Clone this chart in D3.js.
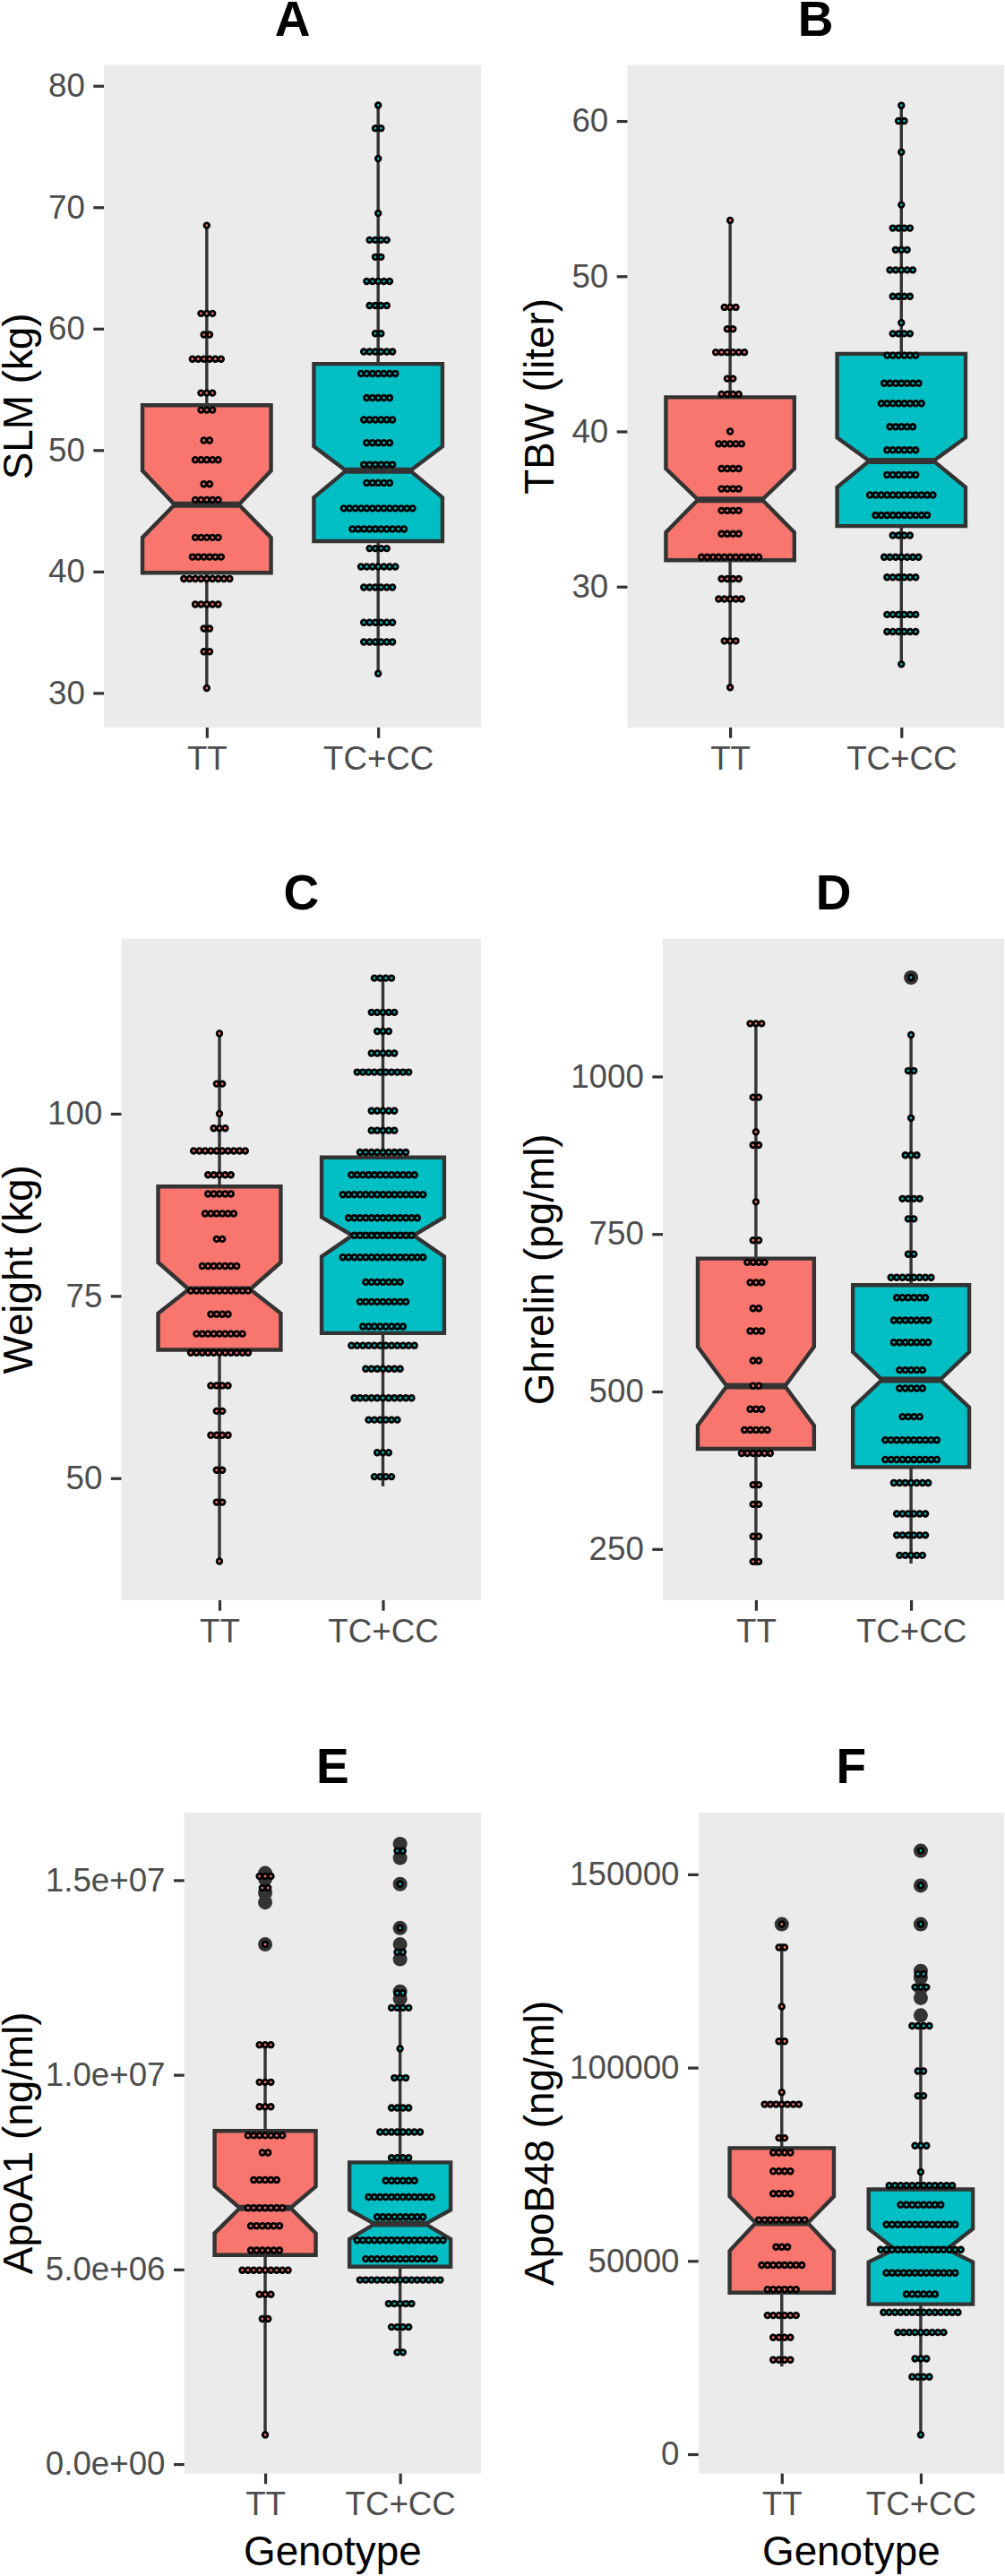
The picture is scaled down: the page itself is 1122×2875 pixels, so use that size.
<!DOCTYPE html>
<html>
<head>
<meta charset="utf-8">
<script src="https://cdn.jsdelivr.net/npm/d3@7"></script>
<style>
  body { margin: 0; background: #fff; }
  svg { display: block; }
</style>
</head>
<body>
<div id="chart"></div>
<script>
const groups = ["TT", "TC+CC"];
const groupFills = ["#F8766D", "#00BFC4"];

// dot rows are [value, dots in the row]; boxes are [min, q1, median, q3, max]

// A - SLM (kg)
const slmDotsTT = [[68.5,1],[61.25,3],[59.5,2],[57.5,6],[54.7,3],[53.3,3],[50.8,2],[49.2,5],[47.2,2],[45.9,5],[42.8,5],[41.2,6],[39.4,9],[37.3,5],[35.3,2],[33.4,2],[30.4,1]];
const slmDotsTC = [[78.4,1],[76.5,2],[74.0,1],[69.5,1],[67.3,4],[65.9,2],[63.9,5],[61.9,4],[59.6,2],[58.1,6],[56.3,7],[54.3,5],[52.5,6],[50.6,5],[48.8,6],[47.3,5],[45.2,13],[43.5,10],[41.9,4],[40.4,7],[38.7,6],[35.8,6],[34.2,6],[31.6,1]];
const slmBoxTT = [30.4, 39.9, 45.5, 53.7, 68.5];
const slmBoxTC = [31.6, 42.5, 48.3, 57.1, 78.4];
const slmNotchTT = [42.8, 48.3];
const slmNotchTC = [46.1, 50.3];
const slmTicks = [30, 40, 50, 60, 70, 80];
const slmDomain = [27.15, 81.7];

// B - TBW (liter)
const tbwDotsTT = [[53.6,1],[48.0,3],[46.6,2],[45.1,6],[43.4,2],[42.4,4],[40.0,1],[39.2,5],[37.6,4],[36.3,4],[34.9,4],[33.4,4],[31.9,11],[30.5,4],[29.2,5],[26.5,3],[23.5,1]];
const tbwDotsTC = [[61.0,1],[60.0,2],[58.0,1],[54.6,1],[53.1,4],[51.7,3],[50.4,5],[48.7,4],[47.0,1],[46.3,4],[44.9,6],[43.1,7],[41.8,8],[40.3,5],[38.8,6],[37.2,6],[35.9,12],[34.6,10],[33.3,4],[31.9,7],[30.6,6],[28.2,6],[27.1,6],[25.0,1]];
const tbwBoxTT = [23.5, 31.7, 35.6, 42.2, 53.6];
const tbwBoxTC = [25.0, 33.9, 38.1, 45.0, 61.0];
const tbwNotchTT = [33.5, 37.6];
const tbwNotchTC = [36.4, 39.6];
const tbwTicks = [30, 40, 50, 60];
const tbwDomain = [20.92, 63.6];

// C - Weight (kg)
const wtDotsTT = [[111.0,1],[104.1,2],[100.0,1],[98.0,3],[94.9,10],[91.6,5],[89.0,5],[86.3,6],[82.8,2],[79.1,7],[75.7,11],[72.5,4],[69.8,9],[67.2,11],[62.7,4],[59.2,2],[55.9,4],[51.1,2],[46.7,2],[38.6,1]];
const wtDotsTC = [[118.6,4],[113.9,5],[111.3,3],[108.3,5],[105.7,10],[100.4,5],[97.7,5],[94.7,9],[91.6,12],[88.9,15],[85.7,13],[83.3,11],[80.3,15],[76.9,7],[74.2,9],[70.8,8],[68.2,12],[65.0,7],[61.0,11],[58.0,6],[53.5,3],[50.2,4]];
const wtBoxTT = [38.6, 67.6, 75.9, 90.0, 111.0];
const wtBoxTC = [48.9, 69.9, 83.3, 94.0, 118.6];
const wtNotchTT = [72.6, 79.6];
const wtNotchTC = [80.4, 85.8];
const wtTicks = [50, 75, 100];
const wtDomain = [33.25, 124.0];

// D - Ghrelin (pg/ml)
const ghrDotsTT = [[1084,3],[967,2],[912,1],[891,2],[801,1],[740,2],[705,4],[673,3],[632,2],[596,3],[549,2],[509,2],[472,3],[439,5],[402,6],[352,2],[321,2],[270,2],[230,2]];
const ghrDotsTC = [[1157,1],[1066,1],[1009,2],[934,1],[875,3],[806,4],[774,2],[718,2],[681,8],[649,6],[613,7],[578,7],[534,5],[505,5],[460,4],[423,10],[392,10],[355,7],[306,6],[272,6],[240,5]];
const ghrBoxTT = [224, 409, 508.5, 711, 1084];
const ghrBoxTC = [227, 380, 518.5, 669, 1066];
const ghrNotchTT = [446, 571];
const ghrNotchTC = [475, 563];
const ghrOutTT = [];
const ghrOutTC = [1157];
const ghrTicks = [250, 500, 750, 1000];
const ghrDomain = [168.7, 1218.6];

// E - ApoA1 (ng/ml)
const apoaDotsTT = [[15.1e6,3],[14.8e6,2],[13.35e6,1],[10.77e6,3],[9.81e6,3],[9.18e6,3],[8.44e6,7],[8.0e6,2],[7.3e6,5],[6.58e6,7],[6.12e6,6],[5.49e6,6],[4.98e6,9],[4.36e6,3],[3.73e6,2],[0.75e6,1]];
const apoaDotsTC = [[15.75e6,2],[14.9e6,1],[13.77e6,1],[13.15e6,2],[12.1e6,2],[11.72e6,4],[10.67e6,1],[9.92e6,3],[9.15e6,4],[8.53e6,8],[7.87e6,4],[7.28e6,6],[6.86e6,12],[6.35e6,9],[5.75e6,16],[5.27e6,13],[4.73e6,15],[4.12e6,5],[3.52e6,4],[2.87e6,2]];
const apoaBoxTT = [0.75e6, 5.37e6, 6.58e6, 8.56e6, 10.77e6];
const apoaBoxTC = [2.87e6, 5.07e6, 6.17e6, 7.75e6, 11.72e6];
const apoaNotchTT = [5.93e6, 7.13e6];
const apoaNotchTC = [5.78e6, 6.53e6];
const apoaOutTT = [15.18e6, 15.03e6, 14.67e6, 14.43e6, 13.35e6];
const apoaOutTC = [15.93e6, 15.57e6, 14.9e6, 13.77e6, 13.35e6, 12.97e6, 12.14e6, 11.95e6];
const apoaTicks = [0, 5e6, 10e6, 15e6];
const apoaDomain = [-0.242e6, 16.735e6];

// F - ApoB48 (ng/ml)
const apobDotsTT = [[137100,1],[131100,2],[115800,1],[106800,2],[93600,1],[90500,7],[81800,2],[78000,4],[73200,4],[67400,4],[60600,9],[53600,3],[48900,8],[42600,6],[35900,6],[30200,4],[24400,4]];
const apobDotsTC = [[156100,1],[147100,1],[137100,1],[124200,2],[120800,3],[110800,4],[99100,2],[92700,2],[79800,3],[73000,1],[69500,12],[64500,8],[59400,13],[52900,15],[46900,13],[41400,6],[36700,14],[31500,9],[24700,3],[20000,4],[5000,1]];
const apobBoxTT = [22700, 41800, 59800, 79200, 132100];
const apobBoxTC = [5000, 38800, 53000, 68500, 110800];
const apobNotchTT = [52600, 66700];
const apobNotchTC = [49700, 58300];
const apobOutTT = [137100];
const apobOutTC = [156100, 147100, 137100, 125000, 123300, 120500, 118000, 113500];
const apobTicks = [0, 50000, 100000, 150000];
const apobDomain = [-5000, 165970];

const sciFmt = d => {
  const [m, e] = d.toExponential(1).split("e");
  return `${m}e${e[0]}${e.slice(1).padStart(2, "0")}`;
};

// panel frames (pixels) for the 3x2 grid
const W = 1122, H = 2875;
const rowTop = [72.7, 1047.7, 2023];
const rowBottom = [812, 1786, 2760.6];
const panels = [
  { tag: "A", label: "SLM (kg)", left: 116, col: 0, row: 0, dots: [slmDotsTT, slmDotsTC], box: [slmBoxTT, slmBoxTC], notch: [slmNotchTT, slmNotchTC], out: [[], []], ticks: slmTicks, domain: slmDomain, fmt: d => d },
  { tag: "B", label: "TBW (liter)", left: 700.4, col: 1, row: 0, dots: [tbwDotsTT, tbwDotsTC], box: [tbwBoxTT, tbwBoxTC], notch: [tbwNotchTT, tbwNotchTC], out: [[], []], ticks: tbwTicks, domain: tbwDomain, fmt: d => d },
  { tag: "C", label: "Weight (kg)", left: 135.5, col: 0, row: 1, dots: [wtDotsTT, wtDotsTC], box: [wtBoxTT, wtBoxTC], notch: [wtNotchTT, wtNotchTC], out: [[], []], ticks: wtTicks, domain: wtDomain, fmt: d => d },
  { tag: "D", label: "Ghrelin (pg/ml)", left: 740, col: 1, row: 1, dots: [ghrDotsTT, ghrDotsTC], box: [ghrBoxTT, ghrBoxTC], notch: [ghrNotchTT, ghrNotchTC], out: [ghrOutTT, ghrOutTC], ticks: ghrTicks, domain: ghrDomain, fmt: d => d },
  { tag: "E", label: "ApoA1 (ng/ml)", left: 205.7, col: 0, row: 2, dots: [apoaDotsTT, apoaDotsTC], box: [apoaBoxTT, apoaBoxTC], notch: [apoaNotchTT, apoaNotchTC], out: [apoaOutTT, apoaOutTC], ticks: apoaTicks, domain: apoaDomain, fmt: sciFmt },
  { tag: "F", label: "ApoB48 (ng/ml)", left: 779.7, col: 1, row: 2, dots: [apobDotsTT, apobDotsTC], box: [apobBoxTT, apobBoxTC], notch: [apobNotchTT, apobNotchTC], out: [apobOutTT, apobOutTC], ticks: apobTicks, domain: apobDomain, fmt: d => d }
];
const colRight = [537, 1121];
const titleBaseX = [36, 618];

const font = "'Liberation Sans', Arial, Helvetica, sans-serif";
const dotStep = 6.4;

const svg = d3.select("#chart").append("svg")
  .attr("width", W).attr("height", H)
  .style("background", "#fff");

panels.forEach(p => {
  const top = rowTop[p.row], bottom = rowBottom[p.row];
  const left = p.left, right = colRight[p.col];

  const x = d3.scalePoint().domain(groups).range([left, right]).padding(0.6);
  const y = d3.scaleLinear().domain(p.domain).range([bottom, top]);
  const boxW = x.step() * 0.75;

  const g = svg.append("g");

  g.append("rect")
    .attr("x", left).attr("y", top)
    .attr("width", right - left).attr("height", bottom - top)
    .attr("fill", "#EBEBEB");

  // panel letter
  g.append("text")
    .attr("x", (left + right) / 2).attr("y", top - 32.7)
    .attr("text-anchor", "middle")
    .style("font-family", font).style("font-size", "55px").style("font-weight", "700")
    .text(p.tag);

  // y axis
  const ya = g.append("g")
    .attr("transform", `translate(${left},0)`)
    .call(d3.axisLeft(y).tickValues(p.ticks).tickFormat(p.fmt).tickSize(11.7).tickPadding(9.5));
  ya.select(".domain").remove();
  ya.selectAll(".tick line").attr("stroke", "#333333").attr("stroke-width", 3.2);
  ya.selectAll(".tick text")
    .attr("fill", "#4D4D4D")
    .style("font-family", font).style("font-size", "36.7px");

  // x axis
  const xa = g.append("g")
    .attr("transform", `translate(0,${bottom})`)
    .call(d3.axisBottom(x).tickSize(11.7).tickPadding(9));
  xa.select(".domain").remove();
  xa.selectAll(".tick line").attr("stroke", "#333333").attr("stroke-width", 3.2);
  xa.selectAll(".tick text")
    .attr("fill", "#4D4D4D")
    .style("font-family", font).style("font-size", "36.7px");

  // y title
  g.append("text")
    .attr("transform", `translate(${titleBaseX[p.col]},${(top + bottom) / 2}) rotate(-90)`)
    .attr("text-anchor", "middle")
    .style("font-family", font).style("font-size", "45.8px")
    .attr("fill", "#000")
    .text(p.label);

  if (p.row === 2) {
    g.append("text")
      .attr("x", (left + right) / 2).attr("y", 2863)
      .attr("text-anchor", "middle")
      .style("font-family", font).style("font-size", "45.8px")
      .attr("fill", "#000")
      .text("Genotype");
  }

  groups.forEach((grp, gi) => {
    const cx = x(grp);
    const [lo, q1, med, q3, hi] = p.box[gi];
    const [nLo, nHi] = p.notch[gi];
    const x0 = cx - boxW / 2, x1 = cx + boxW / 2;
    const ind = boxW * 0.25;

    // whiskers
    g.append("line").attr("x1", cx).attr("x2", cx).attr("y1", y(q3)).attr("y2", y(hi))
      .attr("stroke", "#333333").attr("stroke-width", 3.4);
    g.append("line").attr("x1", cx).attr("x2", cx).attr("y1", y(q1)).attr("y2", y(lo))
      .attr("stroke", "#333333").attr("stroke-width", 3.4);

    // notched box
    const pts = [
      [x0, y(q1)], [x0, y(nLo)], [x0 + ind, y(med)], [x0, y(nHi)], [x0, y(q3)],
      [x1, y(q3)], [x1, y(nHi)], [x1 - ind, y(med)], [x1, y(nLo)], [x1, y(q1)]
    ];
    g.append("path")
      .attr("d", d3.line()(pts) + "Z")
      .attr("fill", groupFills[gi])
      .attr("stroke", "#333333").attr("stroke-width", 4.4)
      .attr("stroke-linejoin", "miter");
    g.append("line")
      .attr("x1", x0 + ind).attr("x2", x1 - ind)
      .attr("y1", y(med)).attr("y2", y(med))
      .attr("stroke", "#333333").attr("stroke-width", 7);

    // outliers
    g.selectAll(null).data(p.out[gi]).join("circle")
      .attr("cx", cx).attr("cy", d => y(d)).attr("r", 8)
      .attr("fill", "#333333");

    // centred dot stacks
    const rows = p.dots[gi].flatMap(([v, n]) =>
      d3.range(n).map(i => ({ v, off: (i - (n - 1) / 2) * dotStep })));
    g.selectAll(null).data(rows).join("circle")
      .attr("cx", d => cx + d.off).attr("cy", d => y(d.v))
      .attr("r", 2.8)
      .attr("fill", groupFills[gi])
      .attr("stroke", "#000").attr("stroke-width", 2.8);
  });
});
</script>
</body>
</html>
